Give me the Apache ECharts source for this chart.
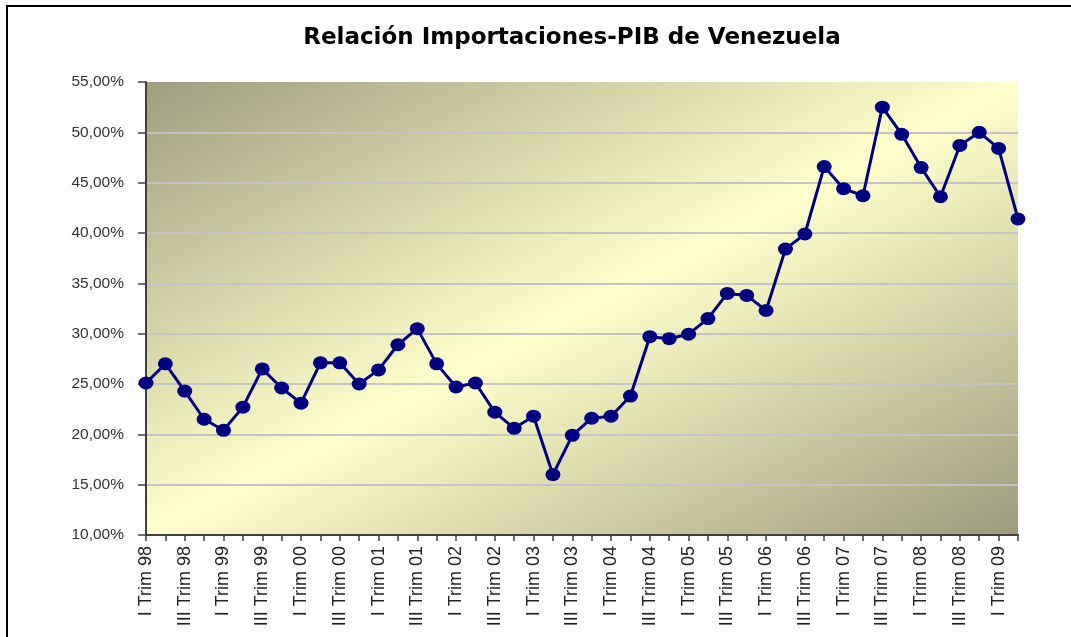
<!DOCTYPE html>
<html>
<head>
<meta charset="utf-8">
<title>Relación Importaciones-PIB de Venezuela</title>
<script src="https://cdn.jsdelivr.net/npm/echarts@6/dist/echarts.min.js"></script>
<style>
    html, body { margin: 0; padding: 0; background: #fff; }
    #frame {
        position: absolute; left: 6px; top: 5px; width: 1100px; height: 700px;
        border-left: 2px solid #000; border-top: 2px solid #000;
    }
    #imports_gdp { position: absolute; left: 0; top: 0; width: 1071px; height: 637px; }
</style>
</head>
<body>
<div id="frame"></div>
<div id="imports_gdp"></div>
<script>
// Chart data
// ------------------------------

var quarters = [
    'I Trim 98', 'II Trim 98', 'III Trim 98', 'IV Trim 98',
    'I Trim 99', 'II Trim 99', 'III Trim 99', 'IV Trim 99',
    'I Trim 00', 'II Trim 00', 'III Trim 00', 'IV Trim 00',
    'I Trim 01', 'II Trim 01', 'III Trim 01', 'IV Trim 01',
    'I Trim 02', 'II Trim 02', 'III Trim 02', 'IV Trim 02',
    'I Trim 03', 'II Trim 03', 'III Trim 03', 'IV Trim 03',
    'I Trim 04', 'II Trim 04', 'III Trim 04', 'IV Trim 04',
    'I Trim 05', 'II Trim 05', 'III Trim 05', 'IV Trim 05',
    'I Trim 06', 'II Trim 06', 'III Trim 06', 'IV Trim 06',
    'I Trim 07', 'II Trim 07', 'III Trim 07', 'IV Trim 07',
    'I Trim 08', 'II Trim 08', 'III Trim 08', 'IV Trim 08',
    'I Trim 09', 'II Trim 09'
];

// imports as % of GDP
var importsGdpRatio = [
    25.1, 27.0, 24.3, 21.5,
    20.4, 22.7, 26.5, 24.6,
    23.1, 27.1, 27.1, 25.0,
    26.4, 28.9, 30.5, 27.0,
    24.7, 25.1, 22.2, 20.6,
    21.8, 16.0, 19.9, 21.6,
    21.8, 23.8, 29.7, 29.5,
    29.95, 31.5, 34.0, 33.8,
    32.3, 38.4, 39.9, 46.6,
    44.4, 43.7, 52.5, 49.8,
    46.5, 43.6, 48.7, 50.0,
    48.4, 41.4
];

var yMin = 10;
var yMax = 55;
var yStep = 5;


// Setup module
// ------------------------------

var ImportsGdpChart = function() {

    var _importsGdpLine = function() {
        if (typeof echarts == 'undefined') {
            console.warn('Warning - echarts.min.js is not loaded.');
            return;
        }

        var chart_element = document.getElementById('imports_gdp');
        if (!chart_element) return;

        var chart = echarts.init(chart_element);

        // Plot area box
        var gridLeft = 146, gridRight = 53, gridTop = 82, gridBottom = 102;
        var plotW = 1071 - gridLeft - gridRight;
        var plotH = 637 - gridTop - gridBottom;

        // Diagonal fill whose middle band runs corner to corner (bottom-left / top-right)
        var s = (plotW * plotH * 2) / (plotH * plotH + plotW * plotW);
        var gx = s * plotH / plotW;
        var gy = s * plotW / plotH;
        var plotFill = new echarts.graphic.LinearGradient(0, 0, gx, gy, [
            { offset: 0, color: '#9f9e7d' },
            { offset: 0.5, color: '#ffffcc' },
            { offset: 1, color: '#9c9b7a' }
        ]);

        // gridlines: hide the one at the top edge
        var gridColors = [];
        for (var i = 0; i < (yMax - yMin) / yStep; i++) gridColors.push('#c4c4c4');
        gridColors.push('transparent');

        chart.setOption({
            animation: false,

            textStyle: {
                fontFamily: '"Liberation Sans", Arial, sans-serif'
            },

            title: {
                text: 'Relación Importaciones-PIB de Venezuela',
                left: 567,
                top: 22,
                textAlign: 'center',
                textStyle: {
                    fontFamily: '"DejaVu Sans", Verdana, sans-serif',
                    fontSize: 23,
                    fontWeight: 'bold',
                    color: '#000'
                }
            },

            grid: {
                left: gridLeft,
                right: gridRight,
                top: gridTop,
                bottom: gridBottom,
                show: true,
                borderWidth: 0,
                backgroundColor: plotFill
            },

            xAxis: {
                type: 'category',
                boundaryGap: false,
                data: quarters,
                axisLine: {
                    lineStyle: { color: '#404040', width: 2 }
                },
                axisTick: {
                    interval: 0,
                    length: 6,
                    lineStyle: { color: '#404040', width: 1.5 }
                },
                axisLabel: {
                    interval: 1,
                    rotate: 90,
                    margin: 11,
                    fontSize: 18,
                    color: '#222'
                },
                splitLine: { show: false }
            },

            yAxis: {
                type: 'value',
                min: yMin,
                max: yMax,
                interval: yStep,
                axisLine: {
                    show: true,
                    lineStyle: { color: '#404040', width: 2 }
                },
                axisTick: {
                    show: true,
                    length: 8,
                    lineStyle: { color: '#404040', width: 1.5 }
                },
                axisLabel: {
                    margin: 22,
                    fontFamily: '"Liberation Sans", Arial, sans-serif',
                    fontSize: 15.5,
                    color: '#333',
                    formatter: function(v) {
                        return v.toFixed(2).replace('.', ',') + '%';
                    }
                },
                splitLine: {
                    lineStyle: { color: gridColors, width: 2 }
                }
            },

            series: [{
                name: 'Importaciones / PIB',
                type: 'line',
                data: importsGdpRatio,
                symbol: 'circle',
                symbolSize: [15, 13],
                showAllSymbol: true,
                lineStyle: { color: '#000080', width: 3 },
                itemStyle: { color: '#000080' }
            }]
        });
    };

    return {
        init: function() {
            _importsGdpLine();
        }
    }
}();


// Initialize module
// ------------------------------

document.addEventListener('DOMContentLoaded', function() {
    ImportsGdpChart.init();
});
</script>
</body>
</html>
